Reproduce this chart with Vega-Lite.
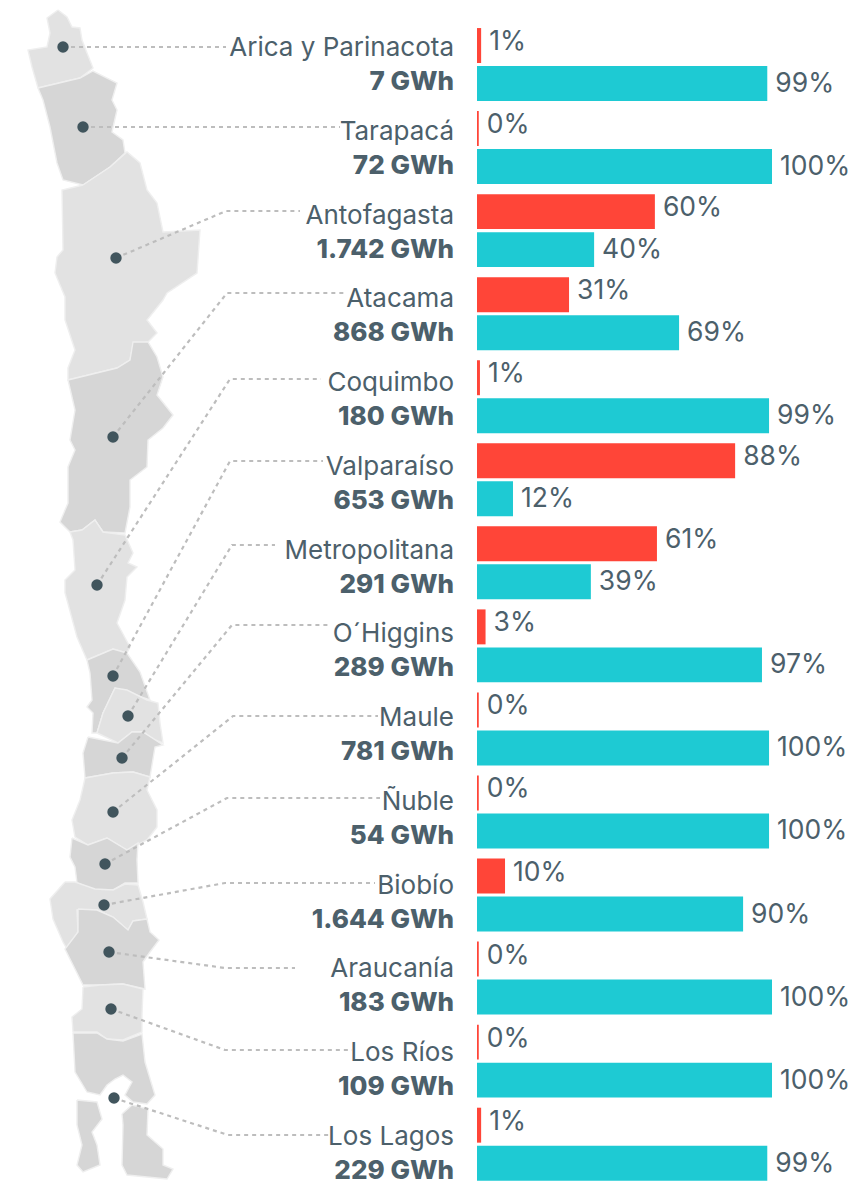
{"$schema":"https://vega.github.io/schema/vega-lite/v6.json","width":852,"height":1182,"padding":0,"autosize":{"type":"fit","contains":"padding"},"background":"white","config":{"view":{"stroke":null},"text":{"font":"Inter"}},
"datasets":{
"bars":[
{"region":"Arica y Parinacota","series":"a","pct":1.4,"label":"1%"},{"region":"Arica y Parinacota","series":"b","pct":98.4,"label":"99%"},
{"region":"Tarapacá","series":"a","pct":0.6,"label":"0%"},{"region":"Tarapacá","series":"b","pct":100,"label":"100%"},
{"region":"Antofagasta","series":"a","pct":60.3,"label":"60%"},{"region":"Antofagasta","series":"b","pct":39.7,"label":"40%"},
{"region":"Atacama","series":"a","pct":31.2,"label":"31%"},{"region":"Atacama","series":"b","pct":68.5,"label":"69%"},
{"region":"Coquimbo","series":"a","pct":1,"label":"1%"},{"region":"Coquimbo","series":"b","pct":99,"label":"99%"},
{"region":"Valparaíso","series":"a","pct":87.5,"label":"88%"},{"region":"Valparaíso","series":"b","pct":12.2,"label":"12%"},
{"region":"Metropolitana","series":"a","pct":61,"label":"61%"},{"region":"Metropolitana","series":"b","pct":38.6,"label":"39%"},
{"region":"O´Higgins","series":"a","pct":2.9,"label":"3%"},{"region":"O´Higgins","series":"b","pct":96.6,"label":"97%"},
{"region":"Maule","series":"a","pct":0.6,"label":"0%"},{"region":"Maule","series":"b","pct":99,"label":"100%"},
{"region":"Ñuble","series":"a","pct":0.6,"label":"0%"},{"region":"Ñuble","series":"b","pct":99,"label":"100%"},
{"region":"Biobío","series":"a","pct":9.5,"label":"10%"},{"region":"Biobío","series":"b","pct":90.2,"label":"90%"},
{"region":"Araucanía","series":"a","pct":0.6,"label":"0%"},{"region":"Araucanía","series":"b","pct":100,"label":"100%"},
{"region":"Los Ríos","series":"a","pct":0.6,"label":"0%"},{"region":"Los Ríos","series":"b","pct":100,"label":"100%"},
{"region":"Los Lagos","series":"a","pct":1.4,"label":"1%"},{"region":"Los Lagos","series":"b","pct":98.4,"label":"99%"}],
"labels":[
{"region":"Arica y Parinacota","gwh":"7 GWh"},{"region":"Tarapacá","gwh":"72 GWh"},{"region":"Antofagasta","gwh":"1.742 GWh"},{"region":"Atacama","gwh":"868 GWh"},{"region":"Coquimbo","gwh":"180 GWh"},{"region":"Valparaíso","gwh":"653 GWh"},{"region":"Metropolitana","gwh":"291 GWh"},{"region":"O´Higgins","gwh":"289 GWh"},{"region":"Maule","gwh":"781 GWh"},{"region":"Ñuble","gwh":"54 GWh"},{"region":"Biobío","gwh":"1.644 GWh"},{"region":"Araucanía","gwh":"183 GWh"},{"region":"Los Ríos","gwh":"109 GWh"},{"region":"Los Lagos","gwh":"229 GWh"}],
"dots":[{"region":"Arica y Parinacota","mx":63,"my":47},{"region":"Tarapacá","mx":83,"my":127},{"region":"Antofagasta","mx":116,"my":258},{"region":"Atacama","mx":113,"my":437},{"region":"Coquimbo","mx":97,"my":585},{"region":"Valparaíso","mx":113,"my":676},{"region":"Metropolitana","mx":128,"my":716},{"region":"O´Higgins","mx":122,"my":758},{"region":"Maule","mx":113,"my":812},{"region":"Ñuble","mx":105,"my":864},{"region":"Biobío","mx":104,"my":905},{"region":"Araucanía","mx":109,"my":952},{"region":"Los Ríos","mx":111,"my":1009},{"region":"Los Lagos","mx":114,"my":1098}],
"leaders":[
{"r":"Arica","i":0,"mx":63,"my":47},{"r":"Arica","i":1,"mx":226,"my":47},
{"r":"Tarapacá","i":0,"mx":83,"my":127},{"r":"Tarapacá","i":1,"mx":340,"my":127},
{"r":"Antofagasta","i":0,"mx":116,"my":258},{"r":"Antofagasta","i":1,"mx":226,"my":211},{"r":"Antofagasta","i":2,"mx":300,"my":211},
{"r":"Atacama","i":0,"mx":113,"my":437},{"r":"Atacama","i":1,"mx":227,"my":293},{"r":"Atacama","i":2,"mx":344,"my":293},
{"r":"Coquimbo","i":0,"mx":97,"my":585},{"r":"Coquimbo","i":1,"mx":230,"my":379},{"r":"Coquimbo","i":2,"mx":321,"my":379},
{"r":"Valparaíso","i":0,"mx":113,"my":676},{"r":"Valparaíso","i":1,"mx":230,"my":461},{"r":"Valparaíso","i":2,"mx":323,"my":461},
{"r":"Metropolitana","i":0,"mx":128,"my":716},{"r":"Metropolitana","i":1,"mx":232,"my":545},{"r":"Metropolitana","i":2,"mx":275,"my":545},
{"r":"OHiggins","i":0,"mx":122,"my":758},{"r":"OHiggins","i":1,"mx":232,"my":625},{"r":"OHiggins","i":2,"mx":330,"my":625},
{"r":"Maule","i":0,"mx":113,"my":812},{"r":"Maule","i":1,"mx":233,"my":716},{"r":"Maule","i":2,"mx":378,"my":716},
{"r":"Ñuble","i":0,"mx":105,"my":864},{"r":"Ñuble","i":1,"mx":227,"my":798},{"r":"Ñuble","i":2,"mx":380,"my":798},
{"r":"Biobío","i":0,"mx":104,"my":905},{"r":"Biobío","i":1,"mx":225,"my":883},{"r":"Biobío","i":2,"mx":375,"my":883},
{"r":"Araucanía","i":0,"mx":109,"my":952},{"r":"Araucanía","i":1,"mx":225,"my":968},{"r":"Araucanía","i":2,"mx":295,"my":968},
{"r":"Los Ríos","i":0,"mx":111,"my":1009},{"r":"Los Ríos","i":1,"mx":225,"my":1050},{"r":"Los Ríos","i":2,"mx":352,"my":1050},
{"r":"Los Lagos","i":0,"mx":114,"my":1098},{"r":"Los Lagos","i":1,"mx":228,"my":1135},{"r":"Los Lagos","i":2,"mx":330,"my":1135}],
"map":[
{"p":"01","t":"l","i":0,"mx":58,"my":10},{"p":"01","t":"l","i":1,"mx":67,"my":17},{"p":"01","t":"l","i":2,"mx":72,"my":27},{"p":"01","t":"l","i":3,"mx":80,"my":28},{"p":"01","t":"l","i":4,"mx":82,"my":40},{"p":"01","t":"l","i":5,"mx":87,"my":53},{"p":"01","t":"l","i":6,"mx":93,"my":68},{"p":"01","t":"l","i":7,"mx":80,"my":78},{"p":"01","t":"l","i":8,"mx":38,"my":88},{"p":"01","t":"l","i":9,"mx":32,"my":67},{"p":"01","t":"l","i":10,"mx":28,"my":50},{"p":"01","t":"l","i":11,"mx":47,"my":47},{"p":"01","t":"l","i":12,"mx":50,"my":33},{"p":"01","t":"l","i":13,"mx":47,"my":18},{"p":"01","t":"l","i":14,"mx":58,"my":10},
{"p":"02","t":"d","i":0,"mx":38,"my":88},{"p":"02","t":"d","i":1,"mx":80,"my":78},{"p":"02","t":"d","i":2,"mx":93,"my":71},{"p":"02","t":"d","i":3,"mx":117,"my":83},{"p":"02","t":"d","i":4,"mx":112,"my":100},{"p":"02","t":"d","i":5,"mx":117,"my":110},{"p":"02","t":"d","i":6,"mx":112,"my":132},{"p":"02","t":"d","i":7,"mx":123,"my":140},{"p":"02","t":"d","i":8,"mx":125,"my":153},{"p":"02","t":"d","i":9,"mx":110,"my":167},{"p":"02","t":"d","i":10,"mx":83,"my":185},{"p":"02","t":"d","i":11,"mx":63,"my":180},{"p":"02","t":"d","i":12,"mx":57,"my":163},{"p":"02","t":"d","i":13,"mx":50,"my":127},{"p":"02","t":"d","i":14,"mx":43,"my":100},{"p":"02","t":"d","i":15,"mx":38,"my":88},
{"p":"03","t":"l","i":0,"mx":83,"my":185},{"p":"03","t":"l","i":1,"mx":110,"my":167},{"p":"03","t":"l","i":2,"mx":127,"my":152},{"p":"03","t":"l","i":3,"mx":140,"my":163},{"p":"03","t":"l","i":4,"mx":147,"my":190},{"p":"03","t":"l","i":5,"mx":157,"my":203},{"p":"03","t":"l","i":6,"mx":163,"my":232},{"p":"03","t":"l","i":7,"mx":200,"my":230},{"p":"03","t":"l","i":8,"mx":197,"my":273},{"p":"03","t":"l","i":9,"mx":167,"my":293},{"p":"03","t":"l","i":10,"mx":163,"my":300},{"p":"03","t":"l","i":11,"mx":147,"my":320},{"p":"03","t":"l","i":12,"mx":157,"my":333},{"p":"03","t":"l","i":13,"mx":148,"my":342},{"p":"03","t":"l","i":14,"mx":133,"my":345},{"p":"03","t":"l","i":15,"mx":130,"my":360},{"p":"03","t":"l","i":16,"mx":117,"my":368},{"p":"03","t":"l","i":17,"mx":68,"my":380},{"p":"03","t":"l","i":18,"mx":68,"my":368},{"p":"03","t":"l","i":19,"mx":75,"my":350},{"p":"03","t":"l","i":20,"mx":65,"my":320},{"p":"03","t":"l","i":21,"mx":65,"my":297},{"p":"03","t":"l","i":22,"mx":55,"my":273},{"p":"03","t":"l","i":23,"mx":57,"my":257},{"p":"03","t":"l","i":24,"mx":63,"my":250},{"p":"03","t":"l","i":25,"mx":62,"my":190},{"p":"03","t":"l","i":26,"mx":83,"my":185},
{"p":"04","t":"d","i":0,"mx":68,"my":380},{"p":"04","t":"d","i":1,"mx":117,"my":368},{"p":"04","t":"d","i":2,"mx":130,"my":360},{"p":"04","t":"d","i":3,"mx":133,"my":342},{"p":"04","t":"d","i":4,"mx":148,"my":342},{"p":"04","t":"d","i":5,"mx":157,"my":357},{"p":"04","t":"d","i":6,"mx":163,"my":377},{"p":"04","t":"d","i":7,"mx":157,"my":395},{"p":"04","t":"d","i":8,"mx":173,"my":415},{"p":"04","t":"d","i":9,"mx":163,"my":428},{"p":"04","t":"d","i":10,"mx":148,"my":440},{"p":"04","t":"d","i":11,"mx":147,"my":467},{"p":"04","t":"d","i":12,"mx":130,"my":480},{"p":"04","t":"d","i":13,"mx":130,"my":507},{"p":"04","t":"d","i":14,"mx":125,"my":533},{"p":"04","t":"d","i":15,"mx":103,"my":532},{"p":"04","t":"d","i":16,"mx":95,"my":520},{"p":"04","t":"d","i":17,"mx":82,"my":530},{"p":"04","t":"d","i":18,"mx":70,"my":532},{"p":"04","t":"d","i":19,"mx":60,"my":522},{"p":"04","t":"d","i":20,"mx":68,"my":503},{"p":"04","t":"d","i":21,"mx":68,"my":467},{"p":"04","t":"d","i":22,"mx":75,"my":450},{"p":"04","t":"d","i":23,"mx":70,"my":440},{"p":"04","t":"d","i":24,"mx":75,"my":410},{"p":"04","t":"d","i":25,"mx":68,"my":380},
{"p":"05","t":"l","i":0,"mx":70,"my":532},{"p":"05","t":"l","i":1,"mx":82,"my":530},{"p":"05","t":"l","i":2,"mx":95,"my":520},{"p":"05","t":"l","i":3,"mx":103,"my":532},{"p":"05","t":"l","i":4,"mx":125,"my":535},{"p":"05","t":"l","i":5,"mx":133,"my":553},{"p":"05","t":"l","i":6,"mx":128,"my":563},{"p":"05","t":"l","i":7,"mx":137,"my":567},{"p":"05","t":"l","i":8,"mx":127,"my":577},{"p":"05","t":"l","i":9,"mx":125,"my":600},{"p":"05","t":"l","i":10,"mx":117,"my":623},{"p":"05","t":"l","i":11,"mx":130,"my":647},{"p":"05","t":"l","i":12,"mx":127,"my":653},{"p":"05","t":"l","i":13,"mx":113,"my":649},{"p":"05","t":"l","i":14,"mx":87,"my":660},{"p":"05","t":"l","i":15,"mx":77,"my":637},{"p":"05","t":"l","i":16,"mx":67,"my":600},{"p":"05","t":"l","i":17,"mx":65,"my":593},{"p":"05","t":"l","i":18,"mx":65,"my":580},{"p":"05","t":"l","i":19,"mx":75,"my":570},{"p":"05","t":"l","i":20,"mx":73,"my":540},{"p":"05","t":"l","i":21,"mx":70,"my":532},
{"p":"06","t":"d","i":0,"mx":87,"my":660},{"p":"06","t":"d","i":1,"mx":113,"my":649},{"p":"06","t":"d","i":2,"mx":127,"my":653},{"p":"06","t":"d","i":3,"mx":140,"my":672},{"p":"06","t":"d","i":4,"mx":150,"my":700},{"p":"06","t":"d","i":5,"mx":115,"my":688},{"p":"06","t":"d","i":6,"mx":103,"my":713},{"p":"06","t":"d","i":7,"mx":97,"my":733},{"p":"06","t":"d","i":8,"mx":92,"my":733},{"p":"06","t":"d","i":9,"mx":93,"my":713},{"p":"06","t":"d","i":10,"mx":87,"my":707},{"p":"06","t":"d","i":11,"mx":92,"my":700},{"p":"06","t":"d","i":12,"mx":90,"my":673},{"p":"06","t":"d","i":13,"mx":87,"my":660},
{"p":"07","t":"l","i":0,"mx":97,"my":733},{"p":"07","t":"l","i":1,"mx":103,"my":713},{"p":"07","t":"l","i":2,"mx":115,"my":688},{"p":"07","t":"l","i":3,"mx":127,"my":690},{"p":"07","t":"l","i":4,"mx":147,"my":700},{"p":"07","t":"l","i":5,"mx":158,"my":703},{"p":"07","t":"l","i":6,"mx":160,"my":723},{"p":"07","t":"l","i":7,"mx":163,"my":743},{"p":"07","t":"l","i":8,"mx":155,"my":740},{"p":"07","t":"l","i":9,"mx":143,"my":732},{"p":"07","t":"l","i":10,"mx":132,"my":732},{"p":"07","t":"l","i":11,"mx":118,"my":743},{"p":"07","t":"l","i":12,"mx":97,"my":733},
{"p":"08","t":"d","i":0,"mx":88,"my":737},{"p":"08","t":"d","i":1,"mx":118,"my":743},{"p":"08","t":"d","i":2,"mx":132,"my":732},{"p":"08","t":"d","i":3,"mx":143,"my":732},{"p":"08","t":"d","i":4,"mx":163,"my":745},{"p":"08","t":"d","i":5,"mx":155,"my":747},{"p":"08","t":"d","i":6,"mx":150,"my":777},{"p":"08","t":"d","i":7,"mx":133,"my":772},{"p":"08","t":"d","i":8,"mx":113,"my":773},{"p":"08","t":"d","i":9,"mx":85,"my":778},{"p":"08","t":"d","i":10,"mx":83,"my":753},{"p":"08","t":"d","i":11,"mx":88,"my":737},
{"p":"09","t":"l","i":0,"mx":85,"my":778},{"p":"09","t":"l","i":1,"mx":113,"my":773},{"p":"09","t":"l","i":2,"mx":133,"my":772},{"p":"09","t":"l","i":3,"mx":150,"my":777},{"p":"09","t":"l","i":4,"mx":147,"my":790},{"p":"09","t":"l","i":5,"mx":157,"my":810},{"p":"09","t":"l","i":6,"mx":157,"my":827},{"p":"09","t":"l","i":7,"mx":147,"my":840},{"p":"09","t":"l","i":8,"mx":127,"my":850},{"p":"09","t":"l","i":9,"mx":107,"my":838},{"p":"09","t":"l","i":10,"mx":88,"my":845},{"p":"09","t":"l","i":11,"mx":75,"my":837},{"p":"09","t":"l","i":12,"mx":72,"my":820},{"p":"09","t":"l","i":13,"mx":80,"my":800},{"p":"09","t":"l","i":14,"mx":83,"my":787},{"p":"09","t":"l","i":15,"mx":85,"my":778},
{"p":"10","t":"d","i":0,"mx":72,"my":838},{"p":"10","t":"d","i":1,"mx":88,"my":845},{"p":"10","t":"d","i":2,"mx":107,"my":838},{"p":"10","t":"d","i":3,"mx":127,"my":850},{"p":"10","t":"d","i":4,"mx":138,"my":843},{"p":"10","t":"d","i":5,"mx":137,"my":860},{"p":"10","t":"d","i":6,"mx":138,"my":883},{"p":"10","t":"d","i":7,"mx":125,"my":883},{"p":"10","t":"d","i":8,"mx":113,"my":890},{"p":"10","t":"d","i":9,"mx":95,"my":890},{"p":"10","t":"d","i":10,"mx":77,"my":883},{"p":"10","t":"d","i":11,"mx":75,"my":867},{"p":"10","t":"d","i":12,"mx":70,"my":857},{"p":"10","t":"d","i":13,"mx":72,"my":838},
{"p":"11","t":"l","i":0,"mx":65,"my":882},{"p":"11","t":"l","i":1,"mx":50,"my":899},{"p":"11","t":"l","i":2,"mx":53,"my":919},{"p":"11","t":"l","i":3,"mx":63,"my":942},{"p":"11","t":"l","i":4,"mx":67,"my":949},{"p":"11","t":"l","i":5,"mx":78,"my":932},{"p":"11","t":"l","i":6,"mx":77,"my":910},{"p":"11","t":"l","i":7,"mx":97,"my":910},{"p":"11","t":"l","i":8,"mx":113,"my":917},{"p":"11","t":"l","i":9,"mx":128,"my":930},{"p":"11","t":"l","i":10,"mx":133,"my":921},{"p":"11","t":"l","i":11,"mx":147,"my":919},{"p":"11","t":"l","i":12,"mx":143,"my":902},{"p":"11","t":"l","i":13,"mx":138,"my":885},{"p":"11","t":"l","i":14,"mx":125,"my":884},{"p":"11","t":"l","i":15,"mx":113,"my":890},{"p":"11","t":"l","i":16,"mx":95,"my":889},{"p":"11","t":"l","i":17,"mx":75,"my":882},{"p":"11","t":"l","i":18,"mx":65,"my":882},
{"p":"12","t":"d","i":0,"mx":78,"my":909},{"p":"12","t":"d","i":1,"mx":97,"my":910},{"p":"12","t":"d","i":2,"mx":113,"my":917},{"p":"12","t":"d","i":3,"mx":128,"my":930},{"p":"12","t":"d","i":4,"mx":133,"my":921},{"p":"12","t":"d","i":5,"mx":147,"my":919},{"p":"12","t":"d","i":6,"mx":150,"my":932},{"p":"12","t":"d","i":7,"mx":159,"my":940},{"p":"12","t":"d","i":8,"mx":150,"my":952},{"p":"12","t":"d","i":9,"mx":143,"my":962},{"p":"12","t":"d","i":10,"mx":145,"my":989},{"p":"12","t":"d","i":11,"mx":123,"my":984},{"p":"12","t":"d","i":12,"mx":100,"my":985},{"p":"12","t":"d","i":13,"mx":83,"my":985},{"p":"12","t":"d","i":14,"mx":75,"my":969},{"p":"12","t":"d","i":15,"mx":65,"my":949},{"p":"12","t":"d","i":16,"mx":78,"my":932},{"p":"12","t":"d","i":17,"mx":78,"my":909},
{"p":"13","t":"l","i":0,"mx":83,"my":987},{"p":"13","t":"l","i":1,"mx":100,"my":985},{"p":"13","t":"l","i":2,"mx":123,"my":984},{"p":"13","t":"l","i":3,"mx":143,"my":989},{"p":"13","t":"l","i":4,"mx":142,"my":1015},{"p":"13","t":"l","i":5,"mx":142,"my":1032},{"p":"13","t":"l","i":6,"mx":123,"my":1040},{"p":"13","t":"l","i":7,"mx":107,"my":1039},{"p":"13","t":"l","i":8,"mx":97,"my":1032},{"p":"13","t":"l","i":9,"mx":73,"my":1032},{"p":"13","t":"l","i":10,"mx":72,"my":1017},{"p":"13","t":"l","i":11,"mx":82,"my":1009},{"p":"13","t":"l","i":12,"mx":83,"my":987},
{"p":"14","t":"d","i":0,"mx":73,"my":1033},{"p":"14","t":"d","i":1,"mx":97,"my":1033},{"p":"14","t":"d","i":2,"mx":107,"my":1039},{"p":"14","t":"d","i":3,"mx":123,"my":1041},{"p":"14","t":"d","i":4,"mx":142,"my":1034},{"p":"14","t":"d","i":5,"mx":145,"my":1062},{"p":"14","t":"d","i":6,"mx":155,"my":1095},{"p":"14","t":"d","i":7,"mx":147,"my":1104},{"p":"14","t":"d","i":8,"mx":133,"my":1102},{"p":"14","t":"d","i":9,"mx":125,"my":1095},{"p":"14","t":"d","i":10,"mx":132,"my":1082},{"p":"14","t":"d","i":11,"mx":123,"my":1075},{"p":"14","t":"d","i":12,"mx":115,"my":1079},{"p":"14","t":"d","i":13,"mx":107,"my":1085},{"p":"14","t":"d","i":14,"mx":100,"my":1095},{"p":"14","t":"d","i":15,"mx":87,"my":1092},{"p":"14","t":"d","i":16,"mx":75,"my":1072},{"p":"14","t":"d","i":17,"mx":73,"my":1033},
{"p":"15","t":"d","i":0,"mx":77,"my":1100},{"p":"15","t":"d","i":1,"mx":97,"my":1102},{"p":"15","t":"d","i":2,"mx":102,"my":1119},{"p":"15","t":"d","i":3,"mx":92,"my":1132},{"p":"15","t":"d","i":4,"mx":97,"my":1145},{"p":"15","t":"d","i":5,"mx":100,"my":1165},{"p":"15","t":"d","i":6,"mx":83,"my":1172},{"p":"15","t":"d","i":7,"mx":77,"my":1165},{"p":"15","t":"d","i":8,"mx":82,"my":1145},{"p":"15","t":"d","i":9,"mx":77,"my":1125},{"p":"15","t":"d","i":10,"mx":77,"my":1100},
{"p":"16","t":"d","i":0,"mx":122,"my":1114},{"p":"16","t":"d","i":1,"mx":132,"my":1105},{"p":"16","t":"d","i":2,"mx":148,"my":1109},{"p":"16","t":"d","i":3,"mx":147,"my":1135},{"p":"16","t":"d","i":4,"mx":163,"my":1149},{"p":"16","t":"d","i":5,"mx":163,"my":1165},{"p":"16","t":"d","i":6,"mx":173,"my":1169},{"p":"16","t":"d","i":7,"mx":167,"my":1179},{"p":"16","t":"d","i":8,"mx":127,"my":1175},{"p":"16","t":"d","i":9,"mx":122,"my":1165},{"p":"16","t":"d","i":10,"mx":123,"my":1125},{"p":"16","t":"d","i":11,"mx":122,"my":1114}]
},
"resolve":{"scale":{"x":"independent","y":"independent","yOffset":"independent","fill":"independent","color":"independent"},"axis":{"x":"independent","y":"independent"}},
"layer":[
{"layer":[
{"data":{"name":"map"},"mark":{"type":"line","stroke":"#EFEFEF","strokeWidth":1.4,"interpolate":"linear"},"encoding":{"x":{"field":"mx","type":"quantitative","axis":null,"scale":{"domain":[0,852],"range":[0,852],"nice":false}},"y":{"field":"my","type":"quantitative","axis":null,"scale":{"domain":[0,1182],"range":[0,1182],"nice":false}},"detail":{"field":"p"},"order":{"field":"i"},"fill":{"field":"t","type":"nominal","legend":null,"scale":{"domain":["l","d"],"range":["#E2E2E2","#D6D6D6"]}}}},
{"data":{"name":"leaders"},"mark":{"type":"line","stroke":"#BDBDBD","strokeWidth":2.2,"strokeDash":[4,4]},"encoding":{"x":{"field":"mx","type":"quantitative","axis":null},"y":{"field":"my","type":"quantitative","axis":null},"detail":{"field":"r"},"order":{"field":"i"}}},
{"data":{"name":"dots"},"mark":{"type":"circle","size":130,"opacity":1,"color":"#41555D"},"encoding":{"x":{"field":"mx","type":"quantitative","axis":null},"y":{"field":"my","type":"quantitative","axis":null}}}
]},
{"data":{"name":"bars"},
"encoding":{"y":{"field":"region","type":"nominal","sort":null,"axis":null,"scale":{"range":[23,1185.7],"paddingInner":0,"paddingOuter":0}},"yOffset":{"field":"series","type":"nominal","scale":{"domain":["a","b"],"paddingInner":0.08,"paddingOuter":0.133}},"x":{"field":"pct","type":"quantitative","axis":null,"stack":null,"scale":{"domain":[0,100],"range":[477,772],"nice":false,"zero":false}}},
"layer":[
{"mark":{"type":"bar"},"encoding":{"color":{"field":"series","type":"nominal","legend":null,"scale":{"domain":["a","b"],"range":["#FF4538","#1ECAD3"]}}}},
{"transform":[{"filter":"datum.series === 'a'"}],"mark":{"type":"text","align":"left","baseline":"middle","dx":8,"dy":-3.5,"fontSize":26.5,"fill":"#4C606B"},"encoding":{"text":{"field":"label"}}},
{"transform":[{"filter":"datum.series === 'b'"}],"mark":{"type":"text","align":"left","baseline":"middle","dx":8,"dy":0.5,"fontSize":26.5,"fill":"#4C606B"},"encoding":{"text":{"field":"label"}}}
]},
{"data":{"name":"labels"},
"encoding":{"y":{"field":"region","type":"nominal","sort":null,"axis":null,"scale":{"range":[22.6,1195.4],"paddingInner":0,"paddingOuter":0}},"x":{"datum":0,"type":"quantitative","axis":null,"scale":{"domain":[0,100],"range":[477,772],"nice":false,"zero":false}}},
"layer":[
{"mark":{"type":"text","align":"right","baseline":"middle","dx":-23,"dy":-16.5,"fontSize":26,"fill":"#4C606B"},"encoding":{"text":{"field":"region"}}},
{"mark":{"type":"text","align":"right","baseline":"middle","dx":-23,"dy":17.5,"fontSize":26,"fontWeight":800,"fill":"#4C606B"},"encoding":{"text":{"field":"gwh"}}}
]}
]}
